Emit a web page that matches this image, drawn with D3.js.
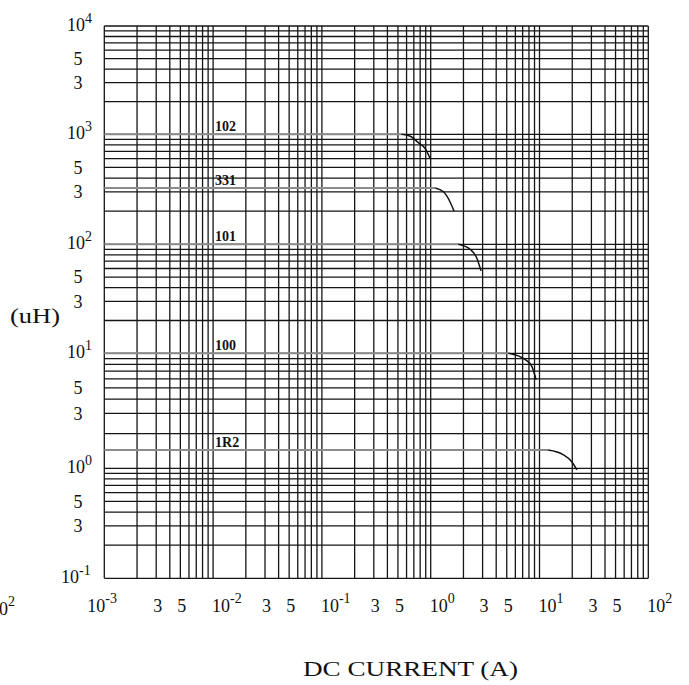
<!DOCTYPE html>
<html>
<head>
<meta charset="utf-8">
<script src="https://cdn.jsdelivr.net/npm/d3@7"></script>
<style>
body { margin: 0; background: #fff; }
text { font-family: "Liberation Serif", "Times New Roman", serif; fill: #111; }
</style>
</head>
<body>
<svg width="689" height="685"></svg>
<script>
// inductance (uH) vs DC current (A), log-log chart
var currentDecades = [0.001, 0.01, 0.1, 1, 10, 100];
var inductDecades = [10000, 1000, 100, 10, 1, 0.1];
var minorSteps = [1, 2, 3, 4, 5, 6, 7, 8, 9];

// tick labels
var xPowerLabels = [{v: 0.001, e: "-3"}, {v: 0.01, e: "-2"}, {v: 0.1, e: "-1"}, {v: 1, e: "0"}, {v: 10, e: "1"}, {v: 100, e: "2"}];
var xSmallLabels = [0.003, 0.005, 0.03, 0.05, 0.3, 0.5, 3, 5, 30, 50];
var yPowerLabels = [{v: 10000, e: "4"}, {v: 1000, e: "3"}, {v: 100, e: "2"}, {v: 10, e: "1"}, {v: 1, e: "0"}, {v: 0.1, e: "-1"}];
var ySmallLabels = [5000, 3000, 500, 300, 50, 30, 5, 3, 0.5, 0.3];

// curves: [current A, inductance uH]
var curveNames = ["102", "331", "101", "100", "1R2"];
var curve102 = [[0.001, 1000], [0.54, 1000], [0.65, 960], [0.77, 840], [0.89, 740], [0.99, 600]];
var curve331 = [[0.001, 325], [1.1, 325], [1.31, 300], [1.5, 245], [1.64, 200]];
var curve101 = [[0.001, 100], [1.8, 100], [2.3, 90], [2.65, 75], [2.9, 57]];
var curve100 = [[0.001, 10], [5.2, 10], [7.4, 8.8], [8.5, 7.7], [9.3, 5.9]];
var curve1R2 = [[0.001, 1.44], [12, 1.44], [16.6, 1.31], [19.8, 1.14], [22, 0.97]];
var curves = [curve102, curve331, curve101, curve100, curve1R2];

var svg = d3.select("svg");

var x = d3.scaleLog().domain([0.001, 100]).range([104.3, 648.3]);
var y = d3.scaleLog().domain(inductDecades).range([26, 134.3, 244.3, 353.3, 468.3, 578.3]);

// first significant digit, for the 3 / 5 labels
function digit(d) {
    return String(d).replace(/^0\.0*/, "").charAt(0);
}

// grid values
var xGrid = [], yGrid = [];
currentDecades.slice(0, -1).forEach(function(d) {
    minorSteps.forEach(function(k) { xGrid.push(d * k); });
});
xGrid.push(100);
inductDecades.slice(1).forEach(function(d) {
    minorSteps.forEach(function(k) { yGrid.push(d * k); });
});
yGrid.push(10000);

var grid = svg.append("g").attr("stroke", "#151515").attr("stroke-width", 1.3);
grid.selectAll(".vx").data(xGrid).enter().append("line")
    .attr("x1", function(d) { return x(d); })
    .attr("x2", function(d) { return x(d); })
    .attr("y1", y(10000)).attr("y2", y(0.1));
grid.selectAll(".hy").data(yGrid).enter().append("line")
    .attr("y1", function(d) { return y(d); })
    .attr("y2", function(d) { return y(d); })
    .attr("x1", x(0.001)).attr("x2", x(100));

// curves: gray flat part, black roll-off
var line = d3.line()
    .x(function(d) { return x(d[0]); })
    .y(function(d) { return y(d[1]); });
var rolloff = d3.line()
    .x(function(d) { return x(d[0]); })
    .y(function(d) { return y(d[1]); })
    .curve(d3.curveMonotoneX);

curves.forEach(function(c, i) {
    svg.append("path")
        .attr("d", line(c.slice(0, 2)))
        .attr("fill", "none")
        .attr("stroke", "#8c8c8c")
        .attr("stroke-width", 2);
    svg.append("path")
        .attr("d", rolloff(c.slice(1)))
        .attr("fill", "none")
        .attr("stroke", "#111")
        .attr("stroke-width", 1.5);
    svg.append("text")
        .attr("x", x(0.01) + 2)
        .attr("y", y(c[0][1]) - 3)
        .attr("font-size", "14px")
        .attr("font-weight", "bold")
        .text(curveNames[i]);
});

// y axis labels
yPowerLabels.forEach(function(p) {
    var t = svg.append("text")
        .attr("x", p.v === 0.1 ? 61 : 67)
        .attr("y", y(p.v) + 5)
        .attr("font-size", "18px");
    t.append("tspan").text("10");
    t.append("tspan").attr("dy", -8).attr("font-size", "14px").text(p.e);
});
svg.selectAll(".ysmall").data(ySmallLabels).enter().append("text")
    .attr("x", 78)
    .attr("y", function(d) { return y(d); })
    .attr("dy", "0.35em")
    .attr("text-anchor", "middle")
    .attr("font-size", "18px")
    .text(digit);

// x axis labels
xPowerLabels.forEach(function(p, i) {
    var t = svg.append("text")
        .attr("x", i === 0 ? x(p.v) - 17 : x(p.v) - 1)
        .attr("y", 612)
        .attr("font-size", "18px");
    t.append("tspan").text("10");
    t.append("tspan").attr("dy", -9).attr("font-size", "14px").text(p.e);
});
svg.selectAll(".xsmall").data(xSmallLabels).enter().append("text")
    .attr("x", function(d) { return x(d) + 1.5; })
    .attr("y", 612)
    .attr("text-anchor", "middle")
    .attr("font-size", "18px")
    .text(digit);

// stray clipped label at far left
var stray = svg.append("text").attr("x", -10).attr("y", 615).attr("font-size", "18px");
stray.append("tspan").text("10");
stray.append("tspan").attr("dy", -9).attr("font-size", "14px").text("2");

// axis titles
svg.append("text")
    .attr("x", 10).attr("y", 323)
    .attr("font-size", "21px")
    .attr("textLength", 50).attr("lengthAdjust", "spacingAndGlyphs")
    .text("(uH)");
svg.append("text")
    .attr("x", 303).attr("y", 676)
    .attr("font-size", "20px")
    .attr("textLength", 215).attr("lengthAdjust", "spacingAndGlyphs")
    .text("DC CURRENT (A)");
</script>
</body>
</html>
